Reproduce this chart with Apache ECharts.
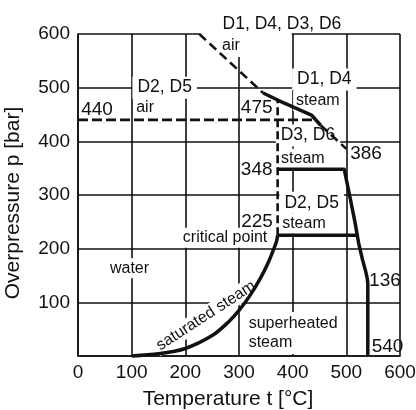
<!DOCTYPE html>
<html>
<head>
<meta charset="utf-8">
<script src="https://cdn.jsdelivr.net/npm/echarts@6/dist/echarts.min.js"></script>
<style>
html,body{margin:0;padding:0;background:#fff;}
#c{width:416px;height:410px;}
</style>
</head>
<body>
<div id="c"></div>
<script>
// ---- data (t in °C, p in bar) ----
const tempTicks = [0, 100, 200, 300, 400, 500, 600];
const presTicks = [0, 100, 200, 300, 400, 500, 600];

const airUpper   = [[226, 600], [345, 490]];
const steamD1D4  = [[345, 490], [374, 476], [435, 449], [452, 430]];
const airLower   = [[452, 430], [500, 386]];
const air440     = [[0, 440], [443, 440]];
const criticalV  = [[372, 225], [372, 475]];
const steamD3D6  = [[372, 348], [496, 348], [506, 300], [516, 250], [523, 210], [530, 180], [536, 158], [539, 144], [540, 136], [540, 0]];
const steamD2D5  = [[372, 225], [520, 225]];
const saturated  = [[100, 0], [150, 4], [200, 14], [250, 38], [280, 63], [300, 85], [320, 112], [340, 145], [355, 175], [365, 200], [370, 214], [372, 225]];

const noteText = ["D1, D4, D3, D6", "air", "D2, D5", "air", "440", "D1, D4", "steam", "475",
                  "D3, D6", "steam", "386", "348", "D2, D5", "steam", "225", "critical point",
                  "water", "saturated steam", "superheated\nsteam", "136", "540"];
const noteT = [380, 227.3, 161.5, 125, 35.4, 459, 447, 333, 428.5, 419, 536.6, 333, 435.5, 421, 333.5, 274, 96, 238.5, 314.3, 572, 576.7];
const noteP = [619, 605.6, 500, 463, 459.5, 515, 475, 462, 411, 367.4, 376.7, 347, 285.6, 246.5, 251, 220.5, 163.7, 75, 43, 140.5, 16.7];
const noteKind = ["title", "airTop", "big", "small", "num", "big", "small", "num",
                  "big", "small", "num", "num", "big", "small", "num", "small",
                  "small", "rot", "multi", "num", "num"];

// ---- styles ----
const FONT = "'Liberation Sans', Arial, Helvetica, sans-serif";
const INK = '#111';
const kindStyle = {
  title: {fontSize: 17.5},
  big:   {fontSize: 17.5, backgroundColor: '#fff', padding: [2, 5]},
  small: {fontSize: 16, backgroundColor: '#fff', padding: [2, 3]},
  num:   {fontSize: 19},
  airTop:{fontSize: 16, lineHeight: 15, backgroundColor: '#fff', padding: [7, 52, 4, 22], align: 'left', verticalAlign: 'top'},
  rot:   {fontSize: 16, backgroundColor: '#fff', padding: [1, 3], rotate: 33},
  multi: {fontSize: 16, lineHeight: 19, backgroundColor: '#fff', padding: [2, 2], align: 'left'}
};

const noteData = noteText.map((txt, i) => ({
  value: [noteT[i], noteP[i]],
  name: txt,
  label: Object.assign({show: true, position: 'inside', formatter: txt, color: INK, opacity: 1,
    textBorderWidth: 0, textShadowBlur: 0, fontFamily: FONT, align: 'center', verticalAlign: 'middle'},
    kindStyle[noteKind[i]])
}));

function lineSeries(data, width, dash) {
  return {
    type: 'line', data: data, showSymbol: false, symbol: 'none', z: 5, clip: false,
    lineStyle: {color: INK, width: width, type: dash || 'solid', cap: 'butt', join: 'round'},
    silent: true, animation: false
  };
}

const chart = echarts.init(document.getElementById('c'), null, {renderer: 'canvas'});
const gridLine = {show: true, lineStyle: {color: INK, width: 1.6}};
chart.setOption({
  animation: false,
  backgroundColor: '#fff',
  grid: {left: 78, right: 16, top: 34, bottom: 54, containLabel: false, outerBoundsMode: 'none'},
  xAxis: {
    type: 'value', min: tempTicks[0], max: tempTicks[tempTicks.length - 1], interval: 100,
    name: 'Temperature t [°C]', nameLocation: 'middle', nameGap: 33,
    nameTextStyle: {fontFamily: FONT, fontSize: 21, color: INK, padding: [0, 22, 0, 0]},
    axisLine: {show: true, lineStyle: {color: INK, width: 1.6}},
    axisTick: {show: false},
    axisLabel: {fontFamily: FONT, fontSize: 19, color: INK, margin: 7},
    splitLine: gridLine
  },
  yAxis: {
    type: 'value', min: presTicks[0], max: presTicks[presTicks.length - 1], interval: 100,
    name: 'Overpressure p [bar]', nameLocation: 'middle', nameGap: 54,
    nameTextStyle: {fontFamily: FONT, fontSize: 21, color: INK, padding: [0, 16, 0, 0]},
    axisLine: {show: true, lineStyle: {color: INK, width: 1.6}},
    axisTick: {show: false},
    axisLabel: {fontFamily: FONT, fontSize: 19, color: INK, margin: 8,
      formatter: v => v === 0 ? '' : String(v)},
    splitLine: gridLine
  },
  series: [
    {type: 'scatter', data: noteData, symbolSize: 0, z: 1, clip: false, silent: true, animation: false,
     itemStyle: {opacity: 1}},
    lineSeries(airUpper, 2.6, [9, 5]),
    lineSeries(steamD1D4, 3.5),
    lineSeries(airLower, 2.6, [9, 5]),
    lineSeries(air440, 2.6, [10, 4]),
    lineSeries(criticalV, 2.6, [8, 4]),
    lineSeries(steamD3D6, 3.5),
    lineSeries(steamD2D5, 3.5),
    Object.assign(lineSeries(saturated, 3.5), {smooth: 0.3})
  ]
});
</script>
</body>
</html>
